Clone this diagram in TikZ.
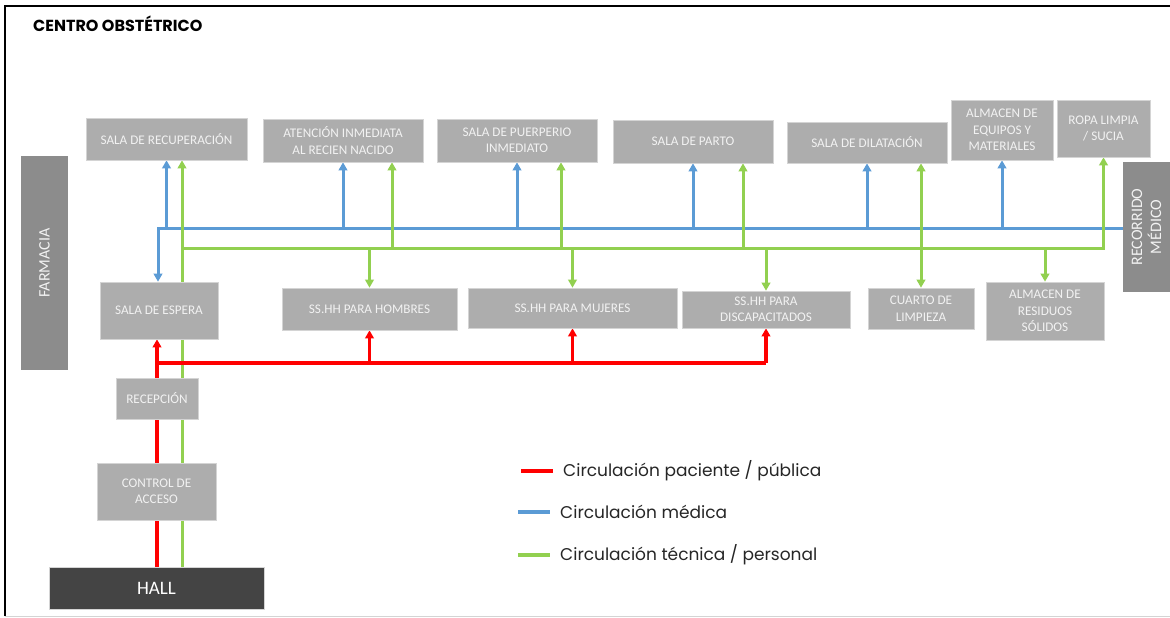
\documentclass[tikz,border=0pt]{standalone}
\usepackage{fontspec}
\setmainfont{Carlito}
\newfontfamily\gothic{Poppins}
\usetikzlibrary{arrows.meta}

\definecolor{boxgray}{HTML}{ADADAD}
\definecolor{boxedge}{HTML}{D4D4D4}
\definecolor{boxtext}{HTML}{F2F2F2}
\definecolor{sidegray}{HTML}{8C8C8C}
\definecolor{hallgray}{HTML}{444444}
\definecolor{medblue}{HTML}{5B9BD5}
\definecolor{techgreen}{HTML}{92D050}
\definecolor{patred}{HTML}{FF0000}
\definecolor{inktext}{HTML}{262626}

\pgfdeclarelayer{paper}
\pgfdeclarelayer{flow}
\pgfsetlayers{paper,flow,main}

\begin{document}
\begin{tikzpicture}[x=1pt,y=-1pt,
  >={Triangle[length=8pt,width=8.5pt]},
  box/.style={fill=boxgray, draw=boxedge, line width=0.6pt, text=boxtext,
    align=center, inner sep=0pt, font=\fontsize{13.2}{16.5}\selectfont},
  sidebox/.style={fill=sidegray, text=boxtext, align=center, inner sep=0pt,
    font=\fontsize{16}{19}\selectfont},
  hallbox/.style={fill=hallgray, draw=boxedge, line width=0.6pt, text=white,
    inner sep=0pt, font=\fontsize{19}{23}\selectfont},
  medflow/.style={draw=medblue, line width=3pt},
  techflow/.style={draw=techgreen, line width=3pt},
  patflow/.style={draw=patred, line width=4pt},
  legtext/.style={text=inktext, anchor=west, inner sep=0pt,
    font=\gothic\fontsize{17}{20}\selectfont}
]
% page and frame
\begin{pgfonlayer}{paper}
  \fill[white] (0,0) rectangle (1170,618);
\end{pgfonlayer}
\useasboundingbox (0,0) rectangle (1170,618);
\draw[black, line width=2pt] (4.5,616) -- (4.5,6) -- (1170,6);
\draw[boxedge, line width=1pt] (4.5,616) -- (1170,616);

% title
\node[anchor=west, inner sep=0pt, text=black, font=\gothic\bfseries\fontsize{16}{19}\selectfont]
  (title) at (33,24) {CENTRO OBSTÉTRICO};

% upper row of rooms
\node[box, minimum width=161pt, minimum height=42pt] (recup) at (166.5,139) {SALA DE RECUPERACIÓN};
\node[box, minimum width=160pt, minimum height=43pt] (atencion) at (343,140.5) {ATENCIÓN INMEDIATA\\AL RECIEN NACIDO};
\node[box, minimum width=160pt, minimum height=43pt] (puerp) at (517,140.5) {SALA DE PUERPERIO\\INMEDIATO};
\node[box, minimum width=160pt, minimum height=43pt] (parto) at (693,141.5) {SALA DE PARTO};
\node[box, minimum width=160pt, minimum height=41pt] (dilat) at (867,142.5) {SALA DE DILATACIÓN};
\node[box, minimum width=102pt, minimum height=60pt] (equipos) at (1002,130) {ALMACEN DE\\EQUIPOS Y\\MATERIALES};
\node[box, minimum width=93pt, minimum height=57pt] (ropa) at (1103.5,128.5) {ROPA LIMPIA\\/ SUCIA};

% side blocks
\node[sidebox, minimum width=47pt, minimum height=214pt] (farmacia) at (44.5,263) {};
\node[text=boxtext, rotate=90, font=\fontsize{16}{19}\selectfont] at (farmacia.center) {FARMACIA};
\node[sidebox, minimum width=47pt, minimum height=130pt] (recorrido) at (1146.5,227) {};
\node[text=boxtext, rotate=90, align=center, font=\fontsize{16}{19}\selectfont] at (recorrido.center) {RECORRIDO\\MÉDICO};

% lower row of rooms
\node[box, minimum width=118pt, minimum height=57pt] (espera) at (159,310.5) {SALA DE ESPERA};
\node[box, minimum width=175pt, minimum height=42pt] (hombres) at (369.5,309) {SS.HH PARA HOMBRES};
\node[box, minimum width=209pt, minimum height=40pt] (mujeres) at (572.5,308) {SS.HH PARA MUJERES};
\node[box, minimum width=168pt, minimum height=37pt] (discap) at (766,309.5) {SS.HH PARA\\DISCAPACITADOS};
\node[box, minimum width=106pt, minimum height=41pt] (limpieza) at (921,308.5) {CUARTO DE\\LIMPIEZA};
\node[box, minimum width=118pt, minimum height=58pt] (residuos) at (1045,311) {ALMACEN DE\\RESIDUOS\\SÓLIDOS};

% entrance sequence
\node[box, minimum width=82pt, minimum height=41pt] (recepcion) at (157,398.5) {RECEPCIÓN};
\node[box, minimum width=119pt, minimum height=57pt] (control) at (156.5,491.5) {CONTROL DE\\ACCESO};
\node[hallbox, minimum width=215pt, minimum height=42pt] (hall) at (156.5,588) {HALL};

% bus junctions
\coordinate (medbus) at (158,228);
\coordinate (techbus) at (182,248);
\coordinate (patbus) at (157,363);
\coordinate (techA) at (392,248);
\coordinate (techP) at (561,248);
\coordinate (techT) at (743,248);

\begin{pgfonlayer}{flow}
  % medical circulation
  \draw[medflow, <-] (espera.north -| medbus) -- (medbus) -- (medbus -| recorrido.west);
  \foreach \room in {recup, atencion, puerp, parto, dilat, equipos}
    \draw[medflow, ->] (\room.south |- medbus) -- (\room.south);

  % technical / staff circulation
  \draw[techflow, ->] (hall.north -| techbus) -- (recup.south -| techbus);
  \draw[techflow, ->] (techbus) -- (techbus -| ropa.south) -- (ropa.south);
  \foreach \drop/\room in {techA/atencion, techP/puerp, techT/parto}
    \draw[techflow, ->] (\drop) -- (\drop |- \room.south);
  \draw[techflow, <->] (limpieza.north) -- (limpieza.north |- dilat.south);
  \foreach \room in {hombres, mujeres, discap, residuos}
    \draw[techflow, ->] (\room.north |- techbus) -- (\room.north);

  % patient / public circulation
  \draw[patflow, ->] (hall.north -| patbus) -- (espera.south -| patbus);
  \draw[patflow] (patbus) -- (patbus -| mujeres.south);
  \draw[patflow, line width=3.2pt] (patbus -| mujeres.south) -- (patbus -| discap.south);
  \foreach \room in {hombres, mujeres, discap}
    \draw[patflow, ->, line width=3.2pt] (\room.south |- patbus) -- (\room.south);
\end{pgfonlayer}

% legend
\coordinate (legRa) at (521,471); \coordinate (legRb) at (553,471);
\coordinate (legBa) at (518,512); \coordinate (legBb) at (550,512);
\coordinate (legGa) at (518,555); \coordinate (legGb) at (550,555);
\draw[patflow, line width=3.2pt] (legRa) -- (legRb);
\draw[medflow, line width=3.2pt] (legBa) -- (legBb);
\draw[techflow, line width=3.2pt] (legGa) -- (legGb);
\node[legtext] (legR) at (563,471) {Circulación paciente / pública};
\node[legtext] (legB) at (560,512) {Circulación médica};
\node[legtext] (legG) at (560,555) {Circulación técnica / personal};
\end{tikzpicture}
\end{document}
